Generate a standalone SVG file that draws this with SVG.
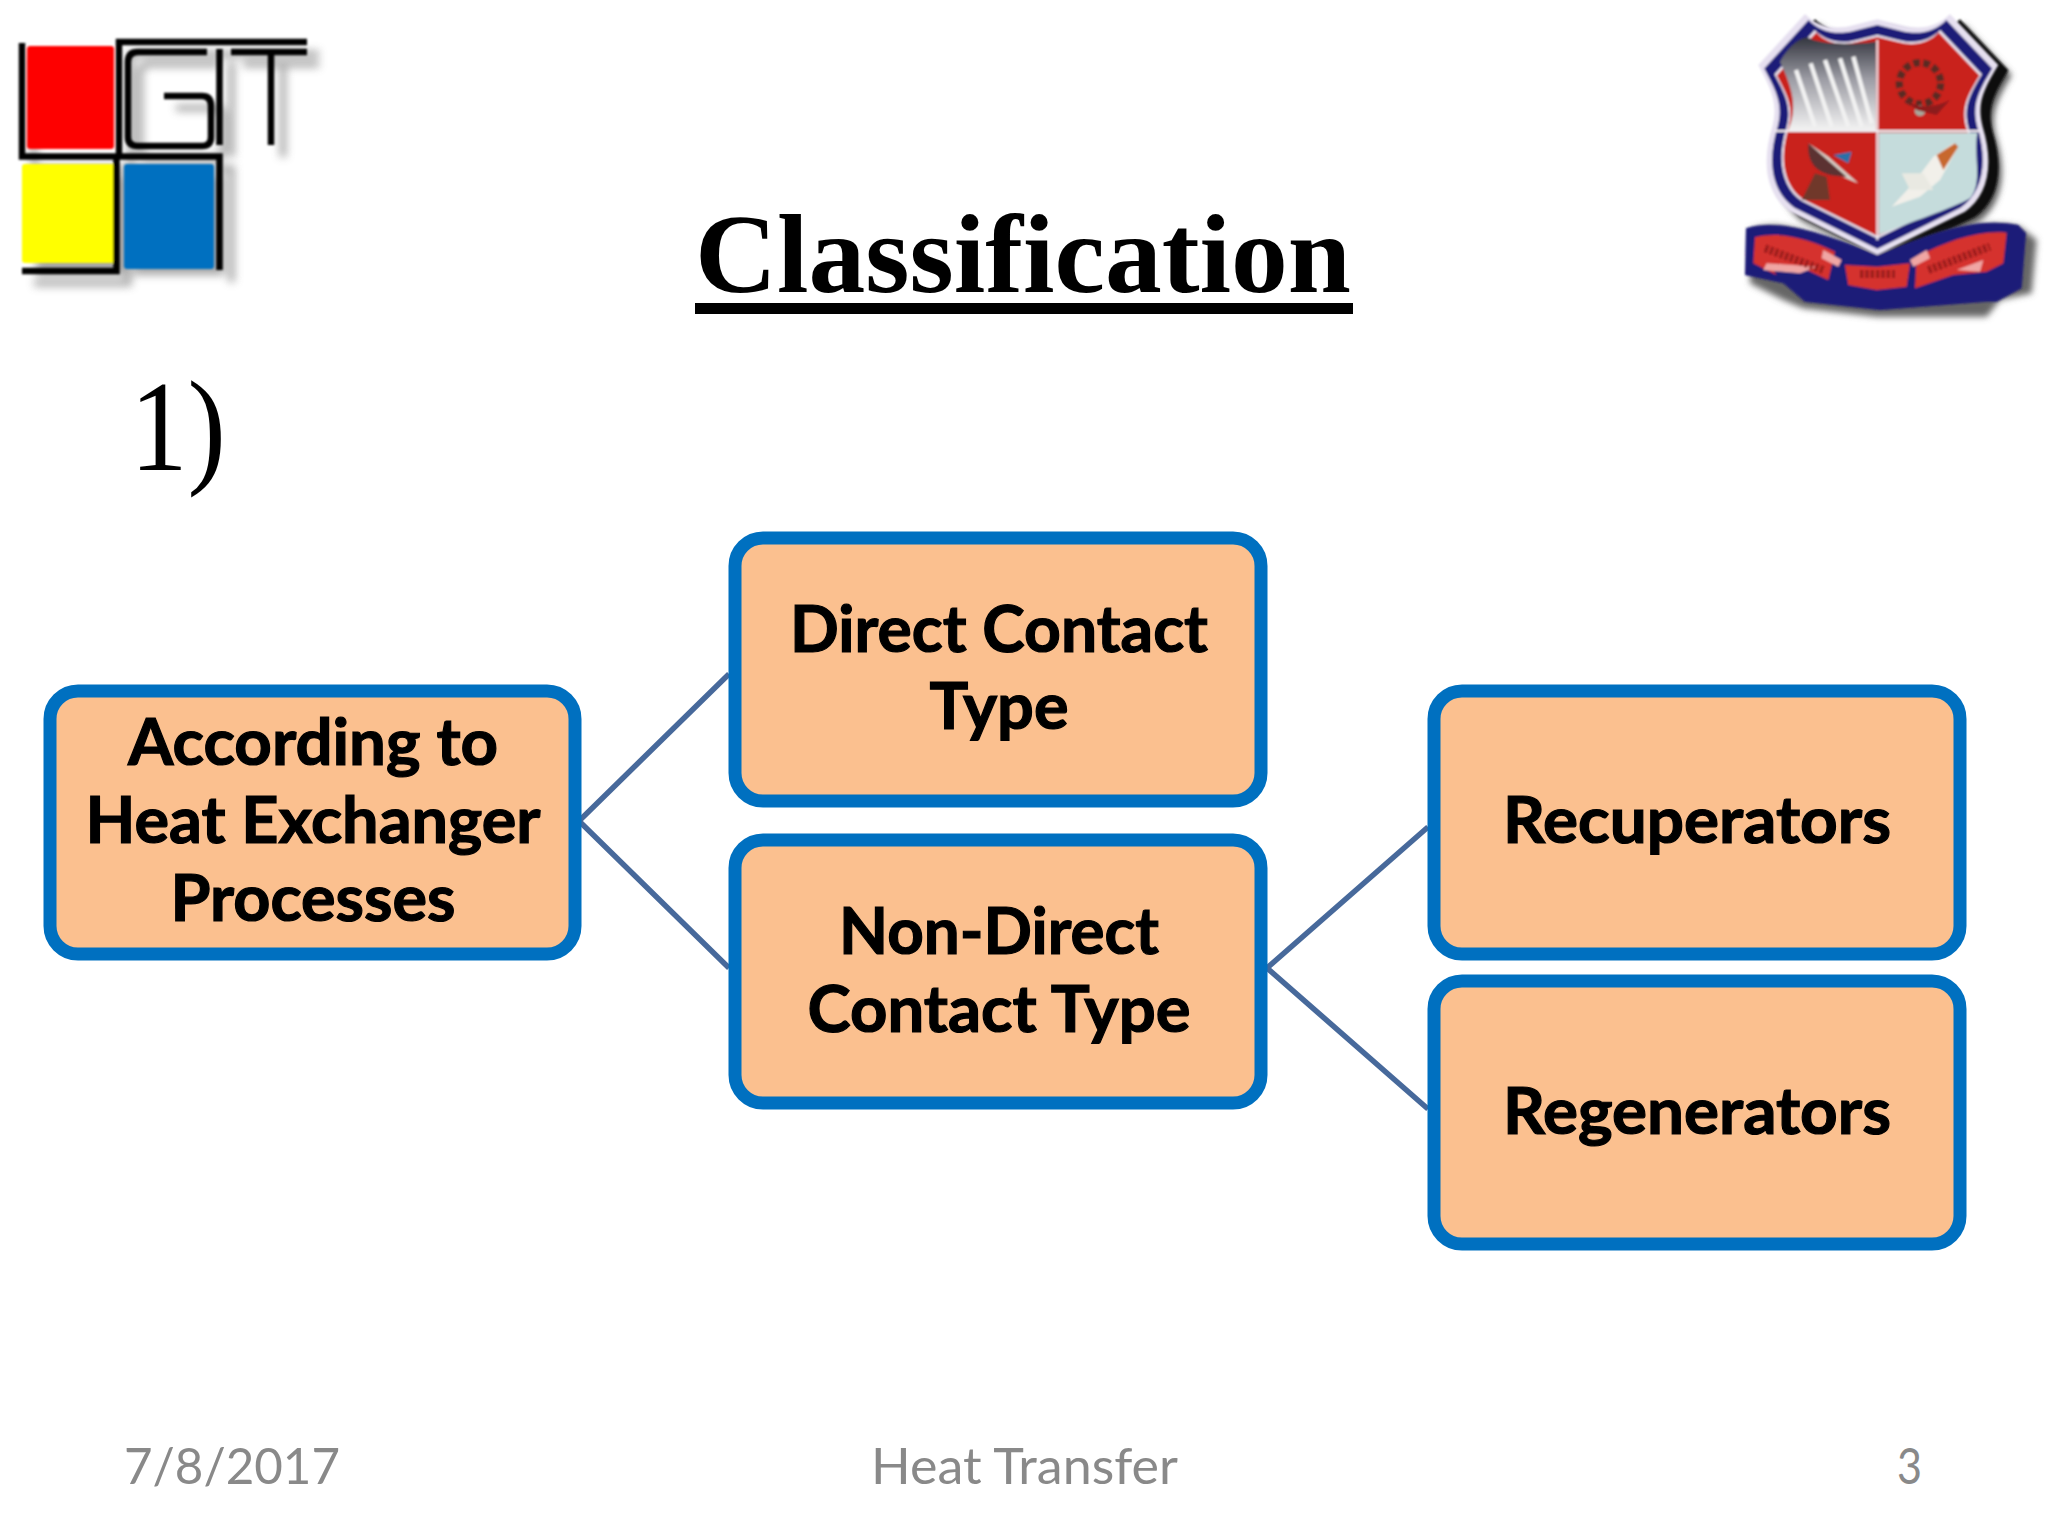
<svg xmlns="http://www.w3.org/2000/svg" width="2048" height="1536" viewBox="0 0 2048 1536">
<defs>
<style>
.box{fill:#fbc08f;stroke:#0070c0;stroke-width:13}
.lbl{font-family:"Lato","Liberation Sans",sans-serif;font-weight:700;font-size:65px;fill:#000;stroke:#000;stroke-width:1.2}
.foot{font-family:"Lato","Liberation Sans",sans-serif;font-size:50px;fill:#898989}
.conn{stroke:#47699b;stroke-width:5.5;fill:none}
.k{fill:none;stroke:#000;stroke-width:6.5}
</style>
<filter id="sh" x="-10%" y="-10%" width="130%" height="130%"><feGaussianBlur stdDeviation="4"/></filter>
<filter id="sh2" x="-10%" y="-10%" width="130%" height="130%"><feGaussianBlur stdDeviation="10"/></filter>
<filter id="soft" x="-5%" y="-5%" width="110%" height="110%"><feGaussianBlur stdDeviation="1"/></filter>
<filter id="soft2" x="-5%" y="-5%" width="110%" height="110%"><feGaussianBlur stdDeviation="2.5"/></filter>
<linearGradient id="dam" x1="0" y1="0" x2="0" y2="1"><stop offset="0" stop-color="#33353f"/><stop offset=".45" stop-color="#9c9ca4"/><stop offset="1" stop-color="#f2f2f2"/></linearGradient>
<g id="gitlines">
<path d="M22 43V156.500H219.500V270M116.500 156V271H22M119 156V42H307"/>
<path d="M207 52H138Q128 52 128 62V137Q128 146 138 146H202Q211 146 211 137V106Q211 96 202 96H164"/>
<path d="M219.500 49V145M231 52H307M271 52V145"/>
</g>
<path id="shield" d="M255 42C290 78 340 92 400 76L472 58L545 76C605 92 655 78 690 42L835 195C790 270 770 310 788 380C825 500 800 590 735 635L472 765L210 635C145 590 120 500 157 380C175 310 155 270 115 195Z"/>
</defs>
<rect width="2048" height="1536" fill="#fff"/>

<g id="git-logo">
<g fill="#8a8a8a" filter="url(#sh)" opacity=".75">
<use href="#gitlines" class="k" transform="translate(12,12)" style="stroke:#8a8a8a"/>
<rect x="36" y="175" width="90" height="100"/>
<rect x="134" y="175" width="90" height="100"/>
</g>
<g filter="url(#soft)">
<rect x="27" y="46" width="87" height="103" rx="3" fill="#fe0000"/>
<rect x="22" y="164" width="92" height="99" rx="3" fill="#ffff00"/>
<rect x="124" y="164" width="90" height="105" rx="3" fill="#0070c0"/>
<use href="#gitlines" class="k"/>
</g>
</g>

<g id="crest" transform="translate(1720,0) scale(.3333)">
<use href="#shield" fill="#555" filter="url(#sh2)" transform="translate(40,30)"/>
<use href="#shield" fill="#111" transform="translate(30,16)" filter="url(#soft2)"/>
<path d="M90 690C180 650 280 700 472 775C660 700 770 650 900 680L950 720L935 880L840 900L800 950L472 950L250 925L190 900L90 850Z" fill="#666" filter="url(#sh2)"/>
<g filter="url(#soft2)">
<use href="#shield" fill="#e6e0f0"/>
<g transform="translate(472,400) scale(.95) translate(-472,-400)"><use href="#shield" fill="#1d1a78"/></g>
<g transform="translate(472,400) scale(.865) translate(-472,-400)"><use href="#shield" fill="#e9e4ee"/></g>
<g transform="translate(472,400) scale(.845) translate(-472,-400)"><use href="#shield" fill="#c9201f"/></g>
<path d="M180 185C205 140 240 112 262 112C300 135 400 135 468 125V390H205C235 320 215 260 180 185Z" fill="url(#dam)"/>
<path d="M228 210L285 380M272 190L335 380M315 180L385 380M360 175L425 380M400 170L455 370" stroke="#f2f2f2" stroke-width="13" fill="none"/>
<path d="M476 398H772C760 470 790 550 750 595C700 625 560 670 476 705Z" fill="#c5dcdc"/>
<path d="M165 393H778" stroke="#f2ecf0" stroke-width="6"/>
<path d="M472 120V720" stroke="#f2ecf0" stroke-width="6"/>
<circle cx="600" cy="250" r="62" fill="none" stroke="#5a2a22" stroke-width="22" stroke-dasharray="20 10"/>
<circle cx="600" cy="332" r="16" fill="#a8a89c"/>
<path d="M555 300C600 330 650 320 690 300L650 345L590 330Z" fill="#8c1f1c"/>
<path d="M265 430C300 500 360 530 415 550L325 470Z" fill="#d8d0c8"/>
<path d="M265 430C260 500 300 530 380 530" fill="#5b3030"/>
<path d="M340 465L395 455L385 490Z" fill="#2c6fa8"/>
<path d="M285 520L245 600H330L320 530Z" fill="#70392a"/>
<path d="M640 470L700 430L715 440L660 540L600 590L515 620L580 550Z" fill="#f2f0ea"/>
<path d="M650 465L705 430L715 440L670 510Z" fill="#c7682f"/>
<path d="M545 520L610 520L640 570L570 570Z" fill="#e9e9e2"/>
<path d="M78 685C170 655 300 695 472 765C640 695 770 650 895 675L918 700L905 865L830 905L800 905L480 930L255 905L190 850L75 825Z" fill="#1d1a78"/>
<path d="M105 712C190 690 280 725 345 755L325 840L240 800L150 795L170 825L100 790Z" fill="#d5312e"/>
<path d="M860 698C770 690 680 725 590 770L585 865L700 825L800 815L850 790Z" fill="#d5312e"/>
<path d="M375 795L472 800L570 790L560 860L470 870L385 855Z" fill="#d5312e"/>
<path d="M310 750L365 780L355 800L305 775ZM620 750L570 780L580 800L630 775ZM140 790L290 800L240 820L130 810ZM790 780L710 810L780 815Z" fill="#f0a6a4"/>
<path d="M135 745L310 810M420 822H525M625 810L810 740" stroke="#8c1a18" stroke-width="24" stroke-dasharray="10 6" fill="none" opacity=".8"/>
</g>
</g>

<text x="1023" y="292" text-anchor="middle" font-family="'Liberation Serif',serif" font-weight="700" font-size="112" textLength="656" lengthAdjust="spacingAndGlyphs">Classification</text>
<rect x="695" y="303" width="658" height="11" fill="#000"/>
<text x="130" y="470" font-family="'Liberation Serif',serif" font-size="130" textLength="96" lengthAdjust="spacingAndGlyphs">1)</text>

<g id="connectors">
<path class="conn" d="M729 674L579 821L729 968"/>
<path class="conn" d="M1428 827L1267 968L1428 1109"/>
</g>

<g id="node-according">
<rect class="box" x="50" y="691" width="525" height="263" rx="28"/>
<text class="lbl" x="313" y="765" text-anchor="middle" textLength="370" lengthAdjust="spacingAndGlyphs">According to</text>
<text class="lbl" x="313" y="843" text-anchor="middle" textLength="455" lengthAdjust="spacingAndGlyphs">Heat Exchanger</text>
<text class="lbl" x="313" y="921" text-anchor="middle" textLength="285" lengthAdjust="spacingAndGlyphs">Processes</text>
</g>
<g id="node-direct">
<rect class="box" x="735" y="538" width="526" height="263" rx="28"/>
<text class="lbl" x="999" y="652" text-anchor="middle" textLength="418" lengthAdjust="spacingAndGlyphs">Direct Contact</text>
<text class="lbl" x="999" y="729" text-anchor="middle" textLength="139" lengthAdjust="spacingAndGlyphs">Type</text>
</g>
<g id="node-nondirect">
<rect class="box" x="735" y="840" width="526" height="263" rx="28"/>
<text class="lbl" x="999" y="954" text-anchor="middle" textLength="320" lengthAdjust="spacingAndGlyphs">Non-Direct</text>
<text class="lbl" x="999" y="1032" text-anchor="middle" textLength="383" lengthAdjust="spacingAndGlyphs">Contact Type</text>
</g>
<g id="node-recuperators">
<rect class="box" x="1434" y="691" width="526" height="263" rx="28"/>
<text class="lbl" x="1697" y="843" text-anchor="middle" textLength="388" lengthAdjust="spacingAndGlyphs">Recuperators</text>
</g>
<g id="node-regenerators">
<rect class="box" x="1434" y="981" width="526" height="263" rx="28"/>
<text class="lbl" x="1697" y="1134" text-anchor="middle" textLength="388" lengthAdjust="spacingAndGlyphs">Regenerators</text>
</g>

<text class="foot" x="124" y="1484" textLength="216" lengthAdjust="spacingAndGlyphs">7/8/2017</text>
<text class="foot" x="871" y="1484" textLength="307" lengthAdjust="spacingAndGlyphs">Heat Transfer</text>
<text class="foot" x="1897" y="1484" textLength="25" lengthAdjust="spacingAndGlyphs">3</text>
</svg>
